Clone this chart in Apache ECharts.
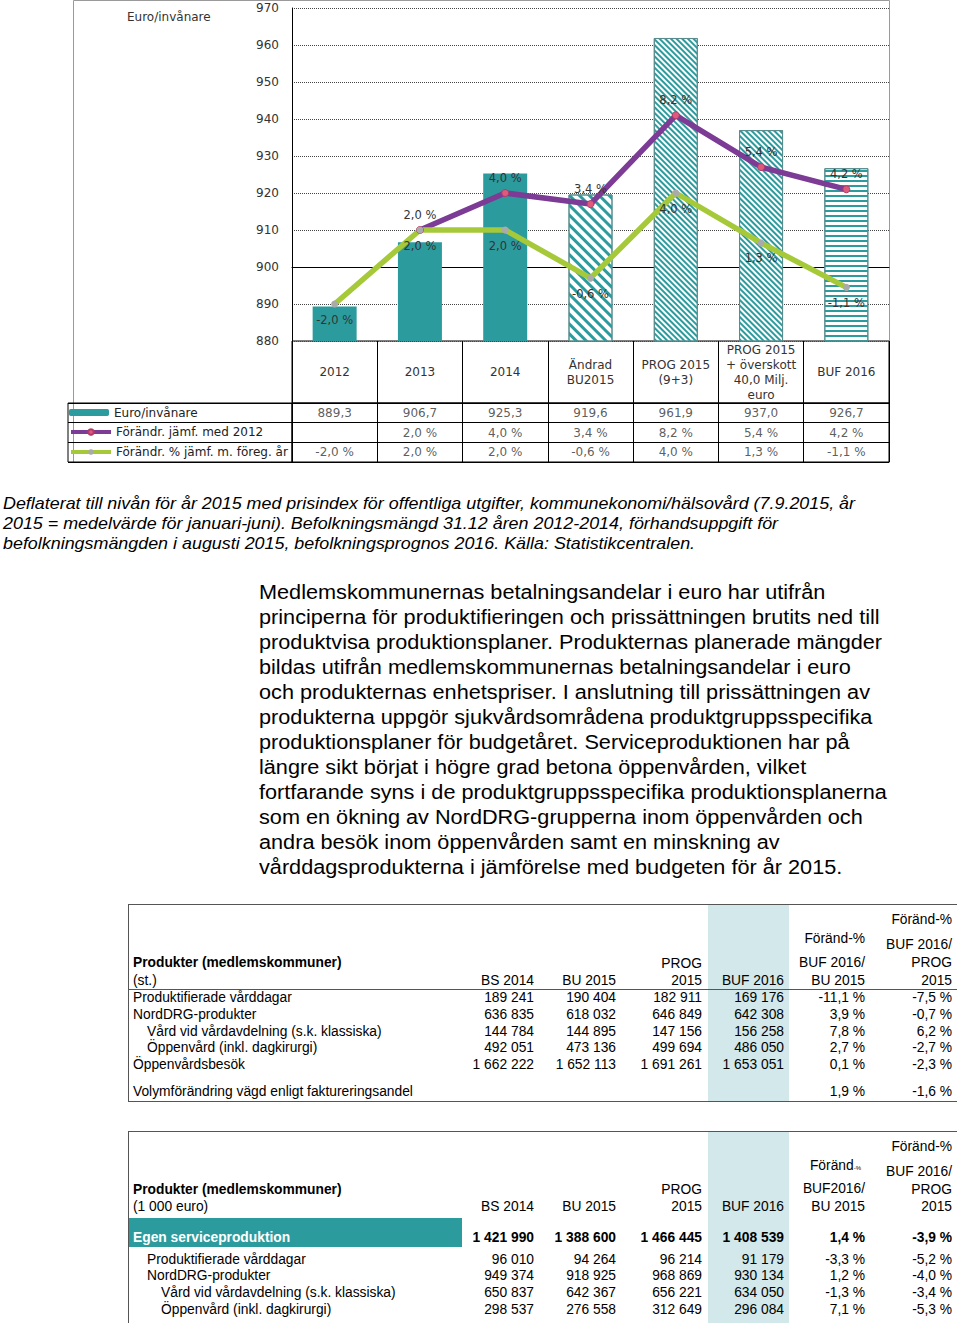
<!DOCTYPE html>
<html>
<head>
<meta charset="utf-8">
<script src="https://cdn.jsdelivr.net/npm/echarts@6/dist/echarts.min.js"></script>
<style>
  html, body { margin: 0; padding: 0; background: #fff; }
  body { width: 960px; height: 1323px; position: relative; overflow: hidden; }
  #chart { position: absolute; left: 0; top: 0; width: 960px; height: 470px; }
  .t { position: absolute; white-space: nowrap; font-family: "Liberation Sans", Arial, sans-serif; color: #000; }
  .cap { font-size: 16.5px; font-style: italic; line-height: 20px; transform: scaleX(1.084); transform-origin: 0 50%; }
  .par { font-size: 20px; line-height: 25px; transform: scaleX(1.084); transform-origin: 0 50%; }
  .cell { font-size: 13.8px; line-height: 16px; }
  .b { font-weight: bold; }
  .box { position: absolute; }
</style>
</head>
<body>
<div id="chart"></div>
<div id="doc"></div>
<script>
// ---------------- chart data ----------------
const categories = ['2012', '2013', '2014', 'Ändrad\nBU2015', 'PROG 2015\n(9+3)', 'PROG 2015\n+ överskott\n40,0 Milj.\neuro', 'BUF 2016'];
const euroPerInhabitant = [889.3, 906.7, 925.3, 919.6, 961.9, 937.0, 926.7];
const changeVs2012 = [null, 2.0, 4.0, 3.4, 8.2, 5.4, 4.2];
const changeVsPrevYear = [-2.0, 2.0, 2.0, -0.6, 4.0, 1.3, -1.1];
const seriesNames = ['Euro/invånare', 'Förändr. jämf. med 2012', 'Förändr. % jämf. m. föreg. år'];
const yAxisName = 'Euro/invånare';
const yMin = 880, yMax = 970, yStep = 10;
const pctMin = -4, pctMax = 14, pctStep = 2;
const barFills = ['solid', 'solid', 'solid', 'wideDiag', 'fineDiag', 'fineDiag', 'horizontal'];

// ---------------- page text data ----------------
const captionLines = [
  'Deflaterat till nivån för år 2015 med prisindex för offentliga utgifter, kommunekonomi/hälsovård (7.9.2015, år',
  '2015 = medelvärde för januari-juni). Befolkningsmängd 31.12 åren 2012-2014, förhandsuppgift för',
  'befolkningsmängden i augusti 2015, befolkningsprognos 2016. Källa: Statistikcentralen.'
];
const paragraphLines = [
  'Medlemskommunernas betalningsandelar i euro har utifrån',
  'principerna för produktifieringen och prissättningen brutits ned till',
  'produktvisa produktionsplaner. Produkternas planerade mängder',
  'bildas utifrån medlemskommunernas betalningsandelar i euro',
  'och produkternas enhetspriser. I anslutning till prissättningen av',
  'produkterna uppgör sjukvårdsområdena produktgruppsspecifika',
  'produktionsplaner för budgetåret. Serviceproduktionen har på',
  'längre sikt börjat i högre grad betona öppenvården, vilket',
  'fortfarande syns i de produktgruppsspecifika produktionsplanerna',
  'som en ökning av NordDRG-grupperna inom öppenvården och',
  'andra besök inom öppenvården samt en minskning av',
  'vårddagsprodukterna i jämförelse med budgeten för år 2015.'
];
const table1Labels = ['Produktifierade vårddagar', 'NordDRG-produkter', 'Vård vid vårdavdelning (s.k. klassiska)', 'Öppenvård (inkl. dagkirurgi)', 'Öppenvårdsbesök', 'Volymförändring vägd enligt faktureringsandel'];
const table1Indent = [0, 0, 1, 1, 0, 0];
const table1BS2014 = ['189 241', '636 835', '144 784', '492 051', '1 662 222', ''];
const table1BU2015 = ['190 404', '618 032', '144 895', '473 136', '1 652 113', ''];
const table1PROG2015 = ['182 911', '646 849', '147 156', '499 694', '1 691 261', ''];
const table1BUF2016 = ['169 176', '642 308', '156 258', '486 050', '1 653 051', ''];
const table1ChgBU = ['-11,1 %', '3,9 %', '7,8 %', '2,7 %', '0,1 %', '1,9 %'];
const table1ChgPROG = ['-7,5 %', '-0,7 %', '6,2 %', '-2,7 %', '-2,3 %', '-1,6 %'];

const table2Labels = ['Egen serviceproduktion', 'Produktifierade vårddagar', 'NordDRG-produkter', 'Vård vid vårdavdelning (s.k. klassiska)', 'Öppenvård (inkl. dagkirurgi)'];
const table2Indent = [0, 1, 1, 2, 2];
const table2BS2014 = ['1 421 990', '96 010', '949 374', '650 837', '298 537'];
const table2BU2015 = ['1 388 600', '94 264', '918 925', '642 367', '276 558'];
const table2PROG2015 = ['1 466 445', '96 214', '968 869', '656 221', '312 649'];
const table2BUF2016 = ['1 408 539', '91 179', '930 134', '634 050', '296 084'];
const table2ChgBU = ['1,4 %', '-3,3 %', '1,2 %', '-1,3 %', '7,1 %'];
const table2ChgPROG = ['-3,9 %', '-5,2 %', '-4,0 %', '-3,4 %', '-5,3 %'];

// ---------------- styles ----------------
const TEAL = '#2c9b9d';
const PURPLE = '#7c3b94';
const GREEN = '#a6c93a';
const CF = 'DejaVu Sans';
const fmt1 = v => v.toFixed(1).replace('.', ',');
const pct = v => fmt1(v) + ' %';

function fillStyle(kind) {
  const border = { borderColor: '#5b8c8d', borderWidth: 1 };
  if (kind === 'solid') return { color: TEAL };
  if (kind === 'wideDiag') return Object.assign({ color: '#fff', decal: { symbol: 'rect', symbolSize: 1, color: TEAL, dashArrayX: [1, 0], dashArrayY: [3, 3.5], rotation: Math.PI / 4 } }, border);
  if (kind === 'fineDiag') return Object.assign({ color: '#fff', decal: { symbol: 'rect', symbolSize: 1, color: TEAL, dashArrayX: [1, 0], dashArrayY: [1.6, 1.6], rotation: Math.PI / 4 } }, border);
  return Object.assign({ color: '#fff', decal: { symbol: 'rect', symbolSize: 1, color: TEAL, dashArrayX: [1, 0], dashArrayY: [2, 2.6], rotation: 0 } }, border);
}

const tableRows = [
  euroPerInhabitant.map(fmt1),
  changeVs2012.map(v => v == null ? '' : pct(v)),
  changeVsPrevYear.map(pct)
];
const cellData = [];
tableRows.forEach((row, r) => row.forEach((t, i) => { if (t) cellData.push([i, r, t]); }));

const chart = echarts.init(document.getElementById('chart'), null, { renderer: 'svg' });
const blackLine = { show: true, lineStyle: { color: '#000', width: 1 } };
const legendBase = {
  padding: 0, left: 69, itemWidth: 40, itemHeight: 7, itemGap: 0,
  lineStyle: { width: 4 },
  textStyle: { fontFamily: CF, fontSize: 12, color: '#222', lineHeight: 14 }
};
chart.setOption({
  animation: false,
  title: { text: yAxisName, left: 127, top: 11, padding: 0, textStyle: { fontFamily: CF, fontSize: 12, fontWeight: 'normal', color: '#333' } },
  legend: [
    Object.assign({ data: [seriesNames[0]], top: 405.5 }, legendBase),
    Object.assign({ data: [seriesNames[1]], top: 425 }, legendBase),
    Object.assign({ data: [seriesNames[2]], top: 445 }, legendBase)
  ],
  graphic: [{ type: 'rect', silent: true, z: -10, shape: { x: 73.5, y: 0.5, width: 816, height: 462 }, style: { fill: 'none', stroke: '#9a9a9a', lineWidth: 1 } }],
  grid: [
    { left: 292, top: 8, width: 597, height: 333 },
    { left: 292, top: 341, width: 597, height: 62, show: true, borderColor: '#000', borderWidth: 1 },
    { left: 292, top: 403, width: 597, height: 59, show: true, borderColor: '#000', borderWidth: 1 },
    { left: 68, top: 403, width: 224, height: 59, show: true, borderColor: '#000', borderWidth: 1 }
  ],
  xAxis: [
    { gridIndex: 0, type: 'category', data: categories, axisLine: blackLine, axisTick: { show: false },
      axisLabel: { interval: 0, margin: 31, verticalAlign: 'middle', lineHeight: 15, fontFamily: CF, fontSize: 12, color: '#333' } },
    { gridIndex: 1, type: 'category', data: categories, axisLine: { show: false }, axisTick: { show: false }, axisLabel: { show: false }, splitLine: blackLine },
    { gridIndex: 2, type: 'category', data: categories, axisLine: { show: false }, axisTick: { show: false }, axisLabel: { show: false }, splitLine: blackLine },
    { gridIndex: 3, type: 'value', show: false }
  ],
  yAxis: [
    { gridIndex: 0, type: 'value', min: yMin, max: yMax, interval: yStep, axisLine: blackLine, axisTick: { show: false },
      splitLine: { show: true, lineStyle: { color: '#444', type: 'dotted', width: 1 } },
      axisLabel: { margin: 13, fontFamily: CF, fontSize: 12, color: '#333' } },
    { gridIndex: 0, type: 'value', min: pctMin, max: pctMax, interval: pctStep, show: false, splitLine: { show: false } },
    { gridIndex: 1, type: 'value', show: false },
    { gridIndex: 2, type: 'category', inverse: true, data: ['0', '1', '2'], axisLine: { show: false }, axisTick: { show: false }, axisLabel: { show: false }, splitLine: blackLine },
    { gridIndex: 3, type: 'category', inverse: true, data: ['0', '1', '2'], axisLine: { show: false }, axisTick: { show: false }, axisLabel: { show: false }, splitLine: blackLine }
  ],
  series: [
    { name: seriesNames[0], type: 'bar', xAxisIndex: 0, yAxisIndex: 0, barWidth: 44, itemStyle: { color: TEAL },
      data: euroPerInhabitant.map((v, i) => ({ value: v, itemStyle: fillStyle(barFills[i]) })) },
    { name: seriesNames[1], type: 'line', xAxisIndex: 0, yAxisIndex: 1, data: changeVs2012,
      lineStyle: { color: PURPLE, width: 5.5 }, itemStyle: { color: '#dd5a7c', borderColor: '#b23a6a', borderWidth: 1 },
      symbol: 'circle', symbolSize: 7,
      label: { show: true, position: 'top', distance: 5.5, formatter: p => pct(p.value), fontFamily: CF, fontSize: 11.5, color: '#333' } },
    { name: seriesNames[2], type: 'line', xAxisIndex: 0, yAxisIndex: 1, data: changeVsPrevYear,
      lineStyle: { color: GREEN, width: 5.5 }, itemStyle: { color: '#aaaaaa' },
      symbol: 'circle', symbolSize: 7,
      label: { show: true, position: 'bottom', distance: 6, formatter: p => pct(p.value), fontFamily: CF, fontSize: 11.5, color: '#333' } },
    { type: 'scatter', xAxisIndex: 2, yAxisIndex: 3, data: cellData, symbolSize: 1, itemStyle: { color: 'rgba(0,0,0,0)' }, silent: true,
      label: { show: true, position: 'inside', formatter: p => p.value[2], fontFamily: CF, fontSize: 12, color: '#333' } }
  ]
});

// ---------------- document part (HTML) ----------------
const doc = document.getElementById('doc');
function addText(cls, text, left, centerY, lh, right) {
  const d = document.createElement('div');
  d.className = 't ' + cls;
  d.textContent = text;
  d.style.top = (centerY - lh / 2) + 'px';
  if (right != null) { d.style.right = (960 - right) + 'px'; d.style.textAlign = 'right'; }
  else d.style.left = left + 'px';
  doc.appendChild(d);
  return d;
}
function addBox(x, y, w, h, color) {
  const d = document.createElement('div');
  d.className = 'box';
  Object.assign(d.style, { left: x + 'px', top: y + 'px', width: w + 'px', height: h + 'px', background: color });
  doc.appendChild(d);
}
captionLines.forEach((s, i) => addText('cap', s, 3, 503 + i * 20, 20));
paragraphLines.forEach((s, i) => addText('par', s, 259, 592 + i * 25, 25));

const colRight = [534, 616, 702, 784, 865, 952];
const HL = '#d2e8ea';
const LINE = '#555';
// table 1
addBox(708, 905, 81, 196, HL);
addBox(128, 903.5, 829, 1.5, LINE);
addBox(127.5, 904, 1.5, 197, LINE);
addBox(128, 988.5, 829, 1.2, LINE);
addBox(128, 1100.5, 829, 1.5, LINE);
addText('cell', 'Föränd-%', 0, 920, 16, colRight[5]);
addText('cell', 'Föränd-%', 0, 939, 16, colRight[4]);
addText('cell', 'BUF 2016/', 0, 945, 16, colRight[5]);
addText('cell b', 'Produkter (medlemskommuner)', 133, 963, 16);
addText('cell', 'PROG', 0, 964, 16, colRight[2]);
addText('cell', 'BUF 2016/', 0, 963, 16, colRight[4]);
addText('cell', 'PROG', 0, 963, 16, colRight[5]);
addText('cell', '(st.)', 133, 981, 16);
['BS 2014', 'BU 2015', '2015', 'BUF 2016', 'BU 2015', '2015'].forEach((s, i) => addText('cell', s, 0, 981, 16, colRight[i]));
const t1Y = [998, 1015, 1032, 1048, 1065, 1092];
table1Labels.forEach((s, r) => {
  addText('cell', s, 133 + table1Indent[r] * 14, t1Y[r], 16);
  [table1BS2014, table1BU2015, table1PROG2015, table1BUF2016, table1ChgBU, table1ChgPROG].forEach((col, c) => {
    if (col[r]) addText('cell', col[r], 0, t1Y[r], 16, colRight[c]);
  });
});
// table 2
addBox(708, 1132, 81, 191, HL);
addBox(128, 1130.5, 829, 1.5, LINE);
addBox(127.5, 1131, 1.5, 192, LINE);
addBox(129, 1218, 333, 29, TEAL);
addText('cell', 'Föränd-%', 0, 1147, 16, colRight[5]);
const f2 = addText('cell', 'Föränd', 0, 1166, 16, colRight[4] - 4);
const small = document.createElement('span'); small.textContent = '-%'; small.style.fontSize = '6px'; f2.appendChild(small);
addText('cell', 'BUF 2016/', 0, 1172, 16, colRight[5]);
addText('cell b', 'Produkter (medlemskommuner)', 133, 1190, 16);
addText('cell', 'PROG', 0, 1190, 16, colRight[2]);
addText('cell', 'BUF2016/', 0, 1189, 16, colRight[4]);
addText('cell', 'PROG', 0, 1190, 16, colRight[5]);
addText('cell', '(1 000 euro)', 133, 1207, 16);
['BS 2014', 'BU 2015', '2015', 'BUF 2016', 'BU 2015', '2015'].forEach((s, i) => addText('cell', s, 0, 1207, 16, colRight[i]));
const t2Y = [1238, 1260, 1276, 1293, 1310];
table2Labels.forEach((s, r) => {
  const lbl = addText('cell' + (r === 0 ? ' b' : ''), s, 133 + table2Indent[r] * 14, t2Y[r], 16);
  if (r === 0) lbl.style.color = '#fff';
  [table2BS2014, table2BU2015, table2PROG2015, table2BUF2016, table2ChgBU, table2ChgPROG].forEach((col, c) => {
    addText('cell' + (r === 0 ? ' b' : ''), col[r], 0, t2Y[r], 16, colRight[c]);
  });
});
</script>
</body>
</html>
